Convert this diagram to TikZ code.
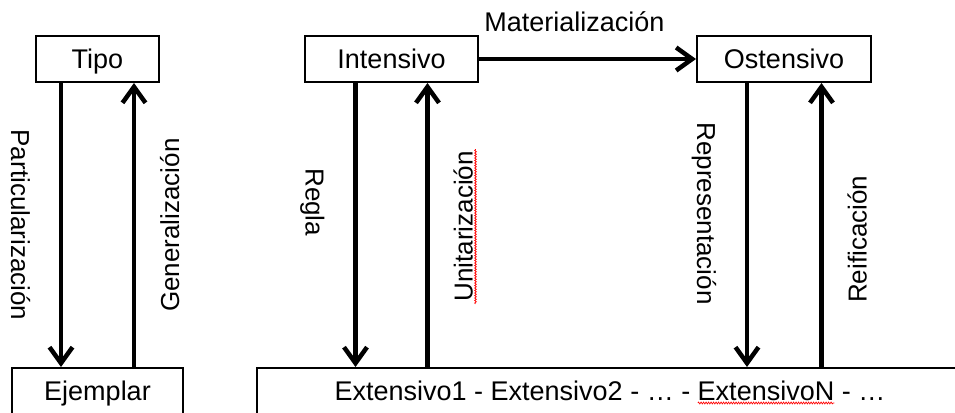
\documentclass[tikz,border=0pt]{standalone}
\usepackage{fontspec}
\setmainfont{Liberation Sans}
\usetikzlibrary{positioning}
\usetikzlibrary{arrows.meta}
\usetikzlibrary{calc}
\usetikzlibrary{decorations.pathmorphing}

\newlength\extall
\newlength\extpre
\newlength\extword
\newcommand\exttext{Extensivo1 - Extensivo2 - … - ExtensivoN - …}

\begin{document}
\begin{tikzpicture}[x=1pt, y=1pt,
			font=\fontsize{27}{32}\selectfont,
			box/.style={draw, line width=2pt, minimum height=46pt,
				text height=24pt, text depth=6pt, inner sep=0pt},
			dlbl/.style={rotate=-90, anchor=north, font=\fontsize{26}{30}\selectfont,
				text height=19pt, text depth=0pt, inner sep=0pt, outer ysep=31pt},
			ulbl/.style={rotate=90, anchor=north, font=\fontsize{26}{30}\selectfont,
				text height=19pt, text depth=0pt, inner sep=0pt, outer ysep=26pt},
			flow/.style={line width=4.5pt, -{Straight Barb[length=16pt,width=23pt]}},
			squig/.style={draw=red, line width=0.7pt, decorate,
				decoration={snake, amplitude=0.9pt, segment length=2.5pt}}]
	\useasboundingbox (0,0) rectangle (955,-412);
	\node [box, minimum width=123pt] (tipo) at (97.5,-59) {Tipo};
	\node [box, minimum width=173pt, right=144pt of tipo] (intensivo) {Intensivo};
	\node [box, minimum width=174pt, right=217pt of intensivo] (ostensivo) {Ostensivo};
	\node [box, minimum width=171pt, below=284pt of tipo] (ejemplar) {Ejemplar};
	\node [box, minimum width=706pt, right=72pt of ejemplar] (extensivo) {\exttext};
	% arrow feet under the upper boxes
	\coordinate (tipoA) at ([xshift=-36.5pt]tipo.south);
	\coordinate (tipoB) at ([xshift=36.5pt]tipo.south);
	\coordinate (intA) at ([xshift=-36pt]intensivo.south);
	\coordinate (intB) at ([xshift=36pt]intensivo.south);
	\coordinate (ostA) at ([xshift=-37pt]ostensivo.south);
	\coordinate (ostB) at ([xshift=37.5pt]ostensivo.south);
	\path [flow]
		(tipoA) edge node [dlbl, pos=.5] {Particularización} (tipoA |- ejemplar.north)
		(tipoB |- ejemplar.north) edge node [ulbl, pos=.5] {Generalización} (tipoB)
		(intA) edge node [dlbl, pos=.42] {Regla} (intA |- extensivo.north)
		(intB |- extensivo.north) edge node [ulbl, pos=.495] (unit) {Unitarización} (intB)
		(ostA) edge node [dlbl, pos=.46] {Representación} (ostA |- extensivo.north)
		(ostB |- extensivo.north) edge node [ulbl, pos=.45] {Reificación} (ostB)
		(intensivo.east) edge node [above=25pt, pos=.44, inner sep=0pt] {Materialización} (ostensivo.west);
	% spell-check marks
	\pgfinterruptpicture
		\global\setbox1=\hbox{\fontsize{27}{32}\selectfont\exttext}
		\global\setbox2=\hbox{\fontsize{27}{32}\selectfont Extensivo1 - Extensivo2 - … - }
		\global\setbox3=\hbox{\fontsize{27}{32}\selectfont ExtensivoN}
	\endpgfinterruptpicture
	\setlength\extall{\wd1}
	\setlength\extpre{\wd2}
	\setlength\extword{\wd3}
	\coordinate (wordA) at ([xshift=-0.5\extall, yshift=-3pt]extensivo.base);
	\coordinate (wordB) at ([xshift=\extpre]wordA);
	\coordinate (wordC) at ([xshift=\extword]wordB);
	\path [squig] (wordB) -- (wordC);
	\path [squig] ([xshift=3pt]unit.base west) -- ([xshift=3pt]unit.base east);
\end{tikzpicture}
\end{document}
